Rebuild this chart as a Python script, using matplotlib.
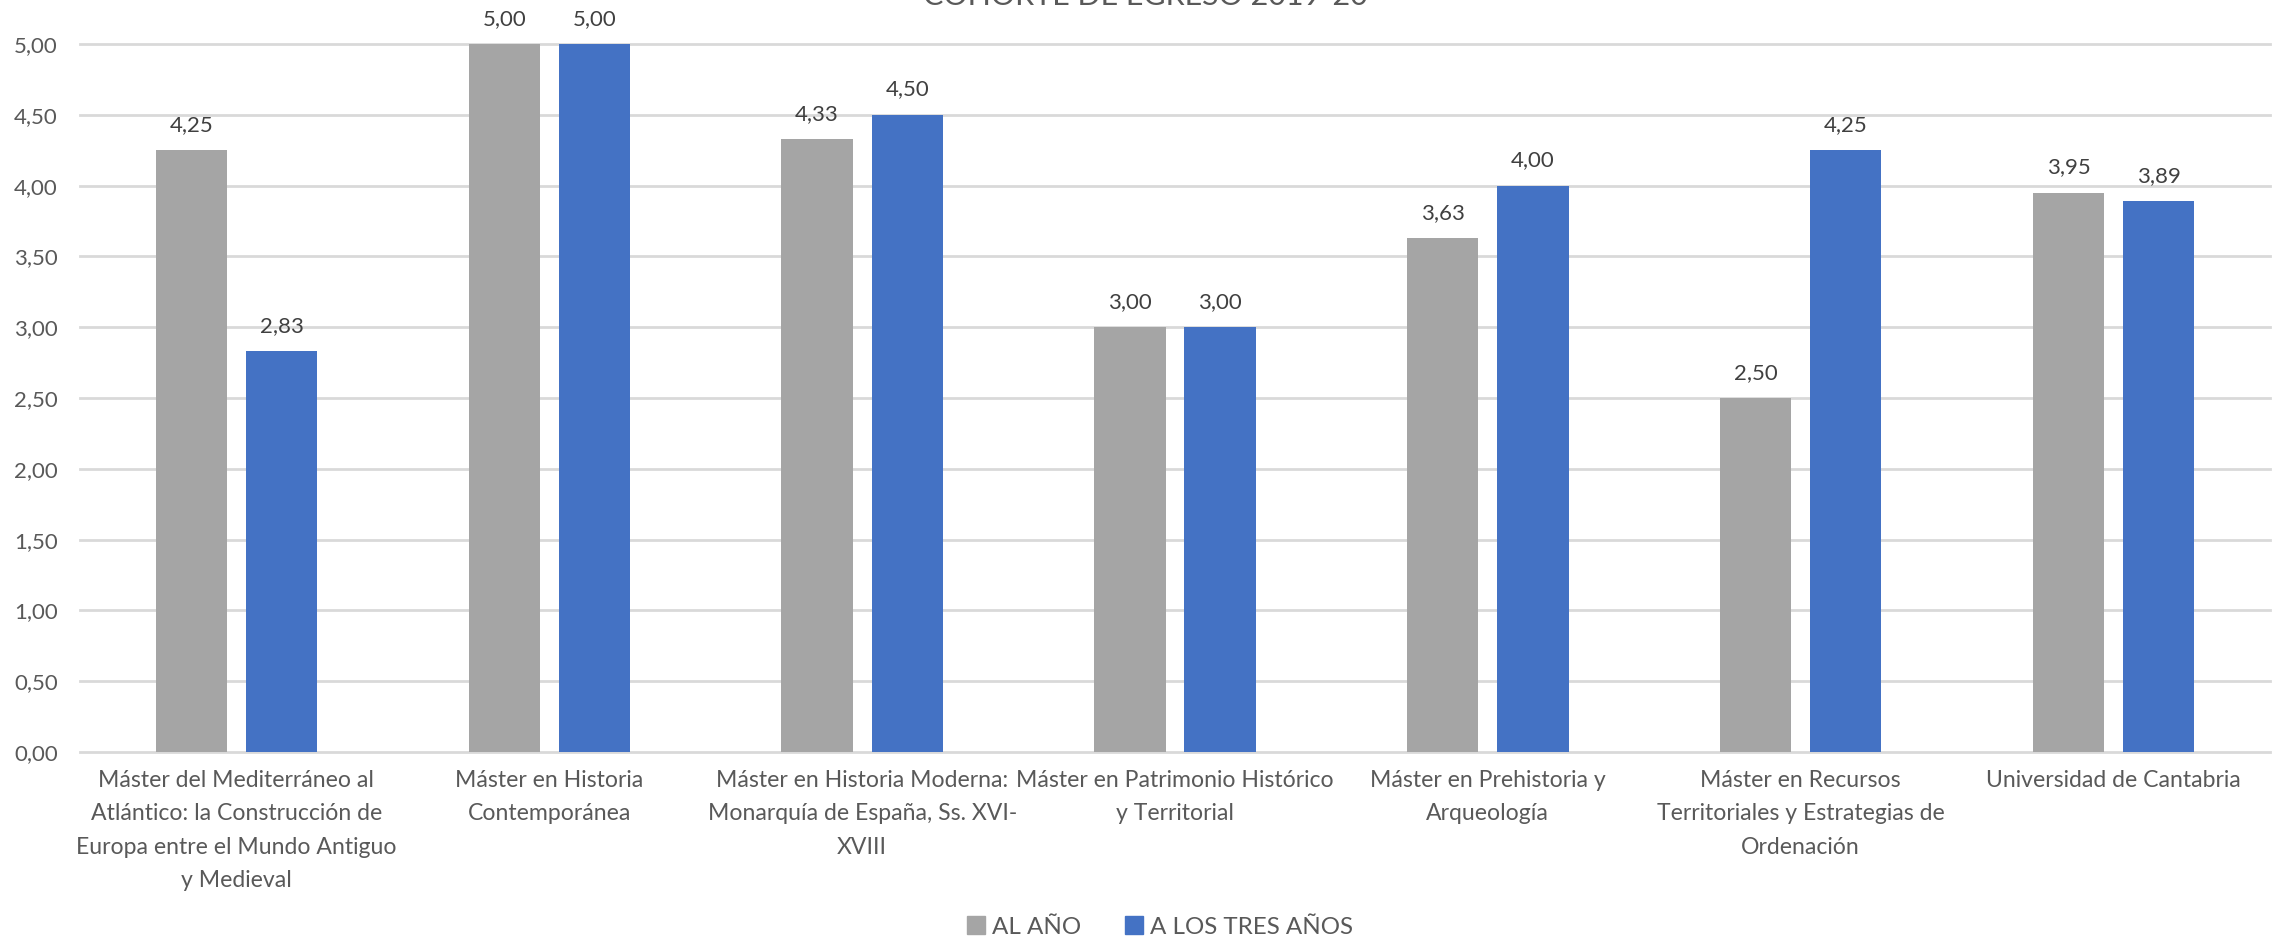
import matplotlib
matplotlib.use("Agg")
import matplotlib.pyplot as plt
import numpy as np
from matplotlib.patches import Patch

categories = [
    "Máster del Mediterráneo al\nAtlántico: la Construcción de\nEuropa entre el Mundo Antiguo\ny Medieval",
    "Máster en Historia\nContemporánea",
    "Máster en Historia Moderna:\nMonarquía de España, Ss. XVI-\nXVIII",
    "Máster en Patrimonio Histórico\ny Territorial",
    "Máster en Prehistoria y\nArqueología",
    "Máster en Recursos\nTerritoriales y Estrategias de\nOrdenación",
    "Universidad de Cantabria",
]
al_anio = [4.25, 5.00, 4.33, 3.00, 3.63, 2.50, 3.95]
tres_anios = [2.83, 5.00, 4.50, 3.00, 4.00, 4.25, 3.89]
series_names = ["AL AÑO", "A LOS TRES AÑOS"]
yticks = [0, 0.5, 1, 1.5, 2, 2.5, 3, 3.5, 4, 4.5, 5]
title = "COHORTE DE EGRESO 2019-20"

FONT = ["Lato", "DejaVu Sans"]
plt.rcParams['font.family'] = FONT
GRAY = "#A5A5A5"
BLUE = "#4472C4"
TICK_C = "#595959"
LAB_C = "#404040"

W, H = 2288, 939
fig = plt.figure(figsize=(W / 100, H / 100), dpi=100)
ax = fig.add_axes([80 / W, 1 - 752 / H, (2270 - 80) / W, (752 - 44) / H])

x = np.arange(len(categories))
bw = 0.228
off = 0.144
b1 = ax.bar(x - off, al_anio, bw, color=GRAY, zorder=3)
b2 = ax.bar(x + off, tres_anios, bw, color=BLUE, zorder=3)

fmt = lambda v: f"{v:.2f}".replace(".", ",")
for bars, vals in ((b1, al_anio), (b2, tres_anios)):
    for r, v in zip(bars, vals):
        ax.annotate(fmt(v), (r.get_x() + r.get_width() / 2, v), xytext=(0, 11),
                    textcoords="offset points", ha="center", va="bottom",
                    fontsize=16, color=LAB_C)

ax.set_xlim(-0.5, len(categories) - 0.5)
ax.set_ylim(0, 5)
ax.set_yticks(yticks)
ax.set_yticklabels([fmt(v) for v in yticks], fontsize=16, color=TICK_C)
ax.set_xticks(x)
ax.set_xticklabels(categories, fontsize=16.6, color=TICK_C, linespacing=1.72)
ax.tick_params(axis="both", length=0)
ax.tick_params(axis="y", pad=16)
ax.tick_params(axis="x", pad=13)
for s in ax.spines.values():
    s.set_visible(False)
ax.yaxis.grid(True, color="#D9D9D9", linewidth=2, zorder=0)
for gl in ax.get_ygridlines():
    gl.set_clip_on(False)
ax.set_axisbelow(True)

fig.text(1145 / W, 1 - 5 / H, title, ha="center", va="baseline",
         fontsize=22, color=TICK_C)

handles = [Patch(color=GRAY), Patch(color=BLUE)]
fig.legend(handles, series_names, loc="center", bbox_to_anchor=(1160 / W, 1 - 927 / H),
           ncol=2, frameon=False, fontsize=17.4, labelcolor=TICK_C,
           handlelength=0.75, handleheight=0.75, handletextpad=0.3, columnspacing=1.8)

fig.savefig("out.png", dpi=100)
